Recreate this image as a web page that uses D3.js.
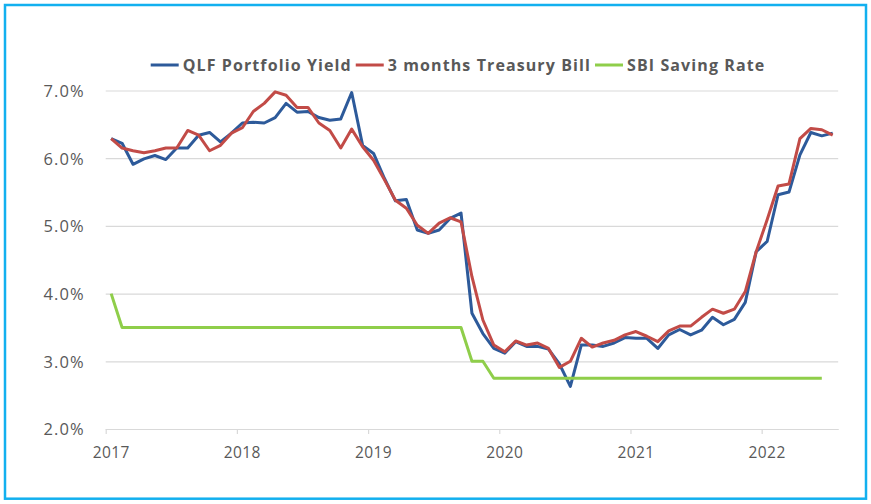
<!DOCTYPE html>
<html>
<head>
<meta charset="utf-8">
<script src="https://cdn.jsdelivr.net/npm/d3@7"></script>
<style>
  html, body { margin: 0; padding: 0; background: #fff; }
  svg { display: block; }
</style>
</head>
<body>
<svg id="chart" width="871" height="504"></svg>
<script>
// ---- data (monthly, Jan 2017 – Jul 2022) ----
const months = d3.timeMonth.range(new Date(2017, 0, 1), new Date(2022, 7, 1));
const yearLabels = ["2017", "2018", "2019", "2020", "2021", "2022"];
const yTicks = [2, 3, 4, 5, 6, 7];
const seriesNames = ["QLF Portfolio Yield", "3 months Treasury Bill", "SBI Saving Rate"];

const qlfYield = [
  6.29, 6.22, 5.91, 5.99, 6.04, 5.98, 6.15, 6.15, 6.34, 6.38, 6.24, 6.37,
  6.52, 6.53, 6.52, 6.60, 6.81, 6.68, 6.69, 6.60, 6.56, 6.58, 6.97, 6.19,
  6.07, 5.70, 5.37, 5.39, 4.94, 4.89, 4.94, 5.11, 5.19, 3.71, 3.41, 3.19,
  3.12, 3.29, 3.22, 3.22, 3.18, 2.96, 2.63, 3.24, 3.24, 3.22, 3.27, 3.35,
  3.34, 3.34, 3.19, 3.39, 3.47, 3.39, 3.46, 3.65, 3.54, 3.62, 3.87, 4.62,
  4.77, 5.46, 5.50, 6.05, 6.38, 6.33, 6.37
];
const tBill = [
  6.29, 6.15, 6.11, 6.08, 6.11, 6.15, 6.15, 6.41, 6.34, 6.11, 6.19, 6.37,
  6.45, 6.69, 6.81, 6.98, 6.93, 6.75, 6.75, 6.52, 6.41, 6.15, 6.43, 6.17,
  5.97, 5.68, 5.38, 5.26, 5.01, 4.89, 5.04, 5.12, 5.06, 4.25, 3.61, 3.24,
  3.14, 3.30, 3.24, 3.27, 3.19, 2.91, 3.00, 3.34, 3.21, 3.27, 3.31, 3.39,
  3.44, 3.37, 3.29, 3.45, 3.52, 3.52, 3.65, 3.77, 3.71, 3.77, 4.03, 4.62,
  5.09, 5.59, 5.62, 6.29, 6.44, 6.42, 6.34
];
const sbiRate = [
  4.00, 3.50, 3.50, 3.50, 3.50, 3.50, 3.50, 3.50, 3.50, 3.50, 3.50, 3.50,
  3.50, 3.50, 3.50, 3.50, 3.50, 3.50, 3.50, 3.50, 3.50, 3.50, 3.50, 3.50,
  3.50, 3.50, 3.50, 3.50, 3.50, 3.50, 3.50, 3.50, 3.50, 3.00, 3.00, 2.75,
  2.75, 2.75, 2.75, 2.75, 2.75, 2.75, 2.75, 2.75, 2.75, 2.75, 2.75, 2.75,
  2.75, 2.75, 2.75, 2.75, 2.75, 2.75, 2.75, 2.75, 2.75, 2.75, 2.75, 2.75,
  2.75, 2.75, 2.75, 2.75, 2.75, 2.75
];

// ---- layout ----
const svg = d3.select("#chart");
const W = 871, H = 504;
const plot = { left: 105.7, right: 838.2, top: 90.5, bottom: 429 };
const colors = ["#2d5a9a", "#c24b47", "#8fce4a"];
const textColor = "#595959";
const gridColor = "#d9d9d9";

svg.append("rect").attr("width", W).attr("height", H).attr("fill", "#fff");
svg.append("rect")
  .attr("x", 5).attr("y", 5).attr("width", 861).attr("height", 493.7)
  .attr("fill", "none").attr("stroke", "#12b0ef").attr("stroke-width", 2.5);

const x = d3.scaleLinear().domain([0, months.length]).range([plot.left, plot.right]);
const y = d3.scaleLinear().domain([2, 7]).range([plot.bottom, plot.top]);

// gridlines + y labels
const yAxis = d3.axisLeft(y)
  .tickValues(yTicks)
  .tickSize(-(plot.right - plot.left))
  .tickPadding(21)
  .tickFormat(d => d.toFixed(1) + "%");
const gy = svg.append("g").attr("transform", `translate(${plot.left},0)`).call(yAxis);
gy.select(".domain").remove();
gy.selectAll(".tick line").attr("stroke", gridColor).attr("stroke-width", 1.2);
gy.selectAll(".tick text")
  .attr("fill", textColor)
  .style("font-family", "'Open Sans', sans-serif")
  .style("font-size", "16.5px")
  .style("letter-spacing", "1.1px")
  .attr("dy", "0.36em");

// x axis (ticks at year boundaries)
const yearStarts = months.map((m, i) => i).filter(i => months[i].getMonth() === 0);
const xAxis = d3.axisBottom(x)
  .tickValues(yearStarts)
  .tickSizeInner(5).tickSizeOuter(0)
  .tickFormat("");
const gx = svg.append("g").attr("transform", `translate(0,${plot.bottom})`).call(xAxis);
gx.select(".domain").attr("stroke", gridColor).attr("stroke-width", 1.2);
gx.selectAll(".tick line").attr("stroke", gridColor).attr("stroke-width", 1.2);

// year labels centered on January
svg.append("g").selectAll("text")
  .data(yearStarts)
  .join("text")
  .attr("x", i => x(i + 0.5))
  .attr("y", 457.5)
  .attr("text-anchor", "middle")
  .attr("fill", textColor)
  .style("font-family", "'Open Sans', sans-serif")
  .style("font-size", "15.5px")
  .style("letter-spacing", "0.4px")
  .text((d, k) => yearLabels[k]);

// lines
const line = d3.line()
  .x((d, i) => x(i + 0.5))
  .y(d => y(d));

const seriesData = [qlfYield, tBill, sbiRate];
const widths = [3, 3, 3];
seriesData.forEach((s, k) => {
  svg.append("path")
    .datum(s)
    .attr("fill", "none")
    .attr("stroke", colors[k])
    .attr("stroke-width", widths[k])
    .attr("stroke-linejoin", "round")
    .attr("stroke-linecap", "butt")
    .attr("d", line);
});

// legend
const legend = svg.append("g");
const legendY = 65;
let cx = 0;
seriesNames.forEach((name, k) => {
  const g = legend.append("g");
  g.append("line")
    .attr("x1", 0).attr("x2", 28)
    .attr("y1", legendY).attr("y2", legendY)
    .attr("stroke", colors[k]).attr("stroke-width", 3);
  const t = g.append("text")
    .attr("x", 32).attr("y", legendY).attr("dy", "0.36em")
    .attr("fill", textColor)
    .style("font-family", "'Open Sans', sans-serif")
    .style("font-weight", "700")
    .style("font-size", "16px")
    .style("letter-spacing", "1.1px")
    .text(name);
  const w = 32 + t.node().getComputedTextLength();
  g.attr("transform", `translate(${cx},0)`);
  cx += w + 4;
});
const totalW = cx - 4;
legend.attr("transform", `translate(${458 - totalW / 2},0)`);
</script>
</body>
</html>
